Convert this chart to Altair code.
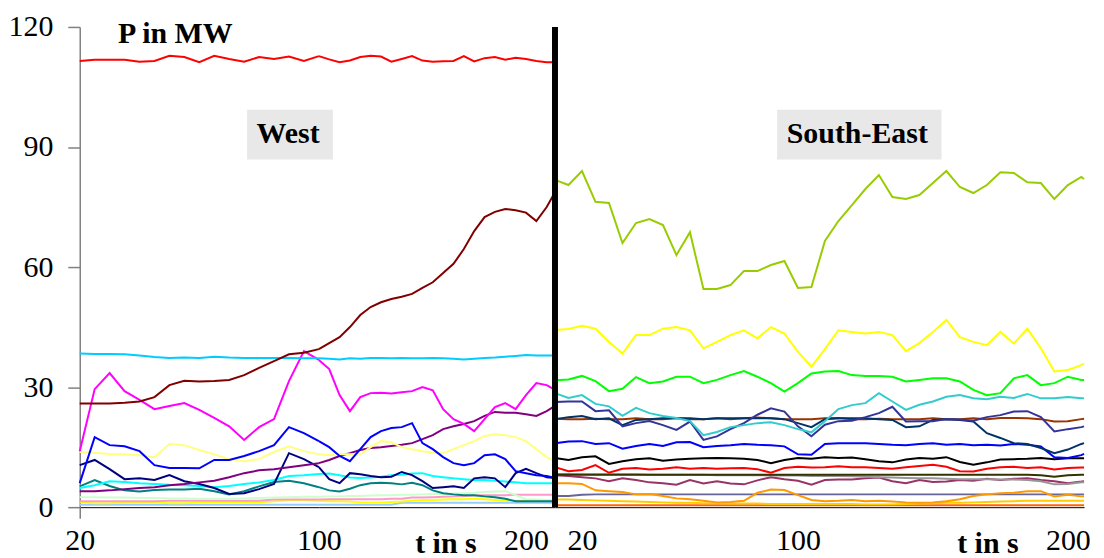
import altair as alt
import pandas as pd

FONT = "Liberation Serif, Times New Roman, serif"

# ---------------- West panel ----------------
T_WEST = [20, 25, 30, 35, 40, 45, 50, 55, 60, 65, 70, 75, 80, 85, 90, 95, 100, 105, 110, 115,
          120, 125, 130, 135, 140, 145, 150, 155, 160, 165, 170, 175, 180, 185, 190, 195, 200, 205, 210, 214]

w_red = [111.5, 111.8, 111.8, 111.8, 111.3, 111.5, 112.8, 112.5, 111.2, 112.8,
         112.0, 111.3, 112.5, 112.0, 112.6, 111.5, 112.7, 111.9, 111.2, 111.6,
         112.5, 112.8, 112.6, 111.3, 112.0, 112.7, 111.6, 111.3, 111.4, 111.5,
         112.7, 111.4, 112.2, 112.5, 111.8, 112.3, 112.0, 111.5, 111.2, 111.2]
w_maroon = [25.9, 25.9, 25.9, 26.1, 26.4, 27.5, 30.5, 31.6, 31.4, 31.5,
            31.8, 33.0, 34.8, 36.5, 38.2, 38.6, 39.5, 41.0, 42.5, 45.0,
            48.0, 50.0, 51.2, 52.0, 52.6, 53.3, 54.8, 56.2, 58.5, 60.8,
            64.5, 69.0, 72.5, 73.8, 74.5, 74.2, 73.6, 71.5, 75.0, 78.7]
w_sky = [38.4, 38.3, 38.3, 38.2, 37.9, 37.5, 37.3, 37.4, 37.3, 37.6,
         37.4, 37.3, 37.3, 37.3, 37.3, 37.2, 37.2, 37.1, 36.9, 37.2,
         37.1, 37.3, 37.3, 37.2, 37.3, 37.2, 37.2, 37.3, 37.2, 37.1,
         36.9, 37.1, 37.3, 37.4, 37.6, 37.8, 38.0, 37.9, 37.9, 37.9]
w_magenta = [14.0, 29.5, 33.5, 29.0, 26.8, 24.5, 25.3, 26.0, 24.3, 22.3,
             20.2, 16.8, 20.0, 22.0, 31.5, 39.0, 36.8, 34.5, 28.0, 24.0,
             27.5, 28.5, 28.6, 28.4, 28.7, 29.0, 30.0, 29.2, 24.5, 22.0,
             20.8, 19.0, 22.0, 25.0, 26.0, 24.5, 28.0, 31.0, 30.5, 29.3]
w_blue = [6.0, 17.5, 15.5, 15.2, 14.0, 10.5, 9.8, 9.8, 9.7, 11.8,
          11.8, 12.8, 14.0, 15.5, 20.0, 18.5, 16.5, 15.0, 12.8, 11.5,
          14.5, 17.5, 19.0, 19.8, 20.0, 21.0, 16.0, 14.5, 12.5, 11.0,
          10.5, 11.0, 13.0, 13.2, 12.0, 9.0, 8.5, 8.0, 7.8, 7.3]
w_lyellow = [13.8, 13.6, 13.3, 13.2, 13.0, 12.5, 15.8, 15.5, 14.3, 13.2,
             12.0, 11.5, 12.0, 13.8, 15.2, 14.0, 13.2, 13.0, 13.3, 13.2,
             13.2, 15.0, 16.5, 16.2, 15.0, 14.5, 14.0, 13.6, 13.5, 14.5,
             15.5, 16.5, 17.8, 18.2, 18.0, 17.5, 16.5, 14.5, 12.5, 11.5]
w_purple = [4.0, 4.0, 4.2, 4.5, 4.8, 5.0, 5.5, 5.8, 6.2, 6.6,
            7.5, 8.5, 9.2, 9.5, 10.0, 10.5, 11.0, 11.8, 12.8, 13.5,
            14.3, 14.8, 15.0, 15.3, 15.6, 16.0, 17.0, 18.0, 19.5, 20.2,
            20.8, 21.5, 22.8, 23.8, 23.6, 23.6, 23.2, 22.8, 24.0, 25.3]
w_navy = [10.5, 11.8, 9.5, 7.0, 7.2, 6.8, 8.0, 6.5, 5.8, 4.8,
          3.3, 3.5, 4.5, 5.8, 13.5, 12.0, 10.0, 7.0, 6.0, 8.5,
          8.2, 7.8, 7.5, 7.6, 8.8, 8.0, 6.5, 4.8, 5.0, 5.2,
          4.8, 7.2, 7.5, 7.2, 5.0, 8.5, 9.6, 8.5, 7.5, 7.3]
w_cyan = [4.8, 5.5, 6.5, 6.3, 6.0, 5.8, 5.6, 5.5, 5.3, 5.0,
          5.3, 5.8, 6.2, 6.8, 7.8, 8.0, 8.3, 8.4, 8.0, 7.4,
          7.3, 7.4, 7.6, 8.0, 8.1, 8.4, 8.5, 7.8, 7.5, 7.2,
          7.0, 6.8, 6.8, 6.6, 6.4, 6.2, 6.0, 6.0, 6.0, 6.0]
w_teal = [5.2, 6.8, 5.3, 4.2, 3.9, 4.3, 4.4, 4.4, 4.6, 4.0,
          3.2, 4.0, 5.2, 6.3, 6.6, 6.0, 5.0, 4.2, 3.9, 4.6,
          5.5, 6.0, 6.1, 6.0, 5.7, 6.1, 5.5, 4.2, 3.5, 3.2,
          3.0, 3.0, 2.7, 2.5, 2.1, 1.5, 1.5, 1.5, 1.5, 1.5]
w_lgreen = [2.5, 2.5, 2.4, 2.4, 2.3, 2.3, 2.2, 2.2, 2.1, 2.1,
            2.1, 2.2, 2.3, 2.4, 2.5, 2.6, 2.6, 2.7, 2.7, 2.8,
            2.8, 2.9, 3.0, 3.0, 3.1, 3.1, 3.2, 3.3, 3.3, 3.4,
            3.5, 3.6, 3.8, 3.9, 4.0, 3.0, 2.0, 1.9, 1.8, 1.8]
w_pink = [1.5, 1.5, 1.5, 1.5, 1.5, 1.5, 1.6, 1.6, 1.6, 1.6,
          1.6, 1.6, 1.6, 1.9, 1.9, 1.9, 1.9, 2.0, 2.0, 2.0,
          2.0, 2.0, 2.0, 2.1, 2.1, 2.4, 2.4, 2.5, 2.6, 2.7,
          2.8, 2.9, 3.0, 3.0, 3.0, 3.1, 3.1, 3.1, 3.1, 3.1]
w_yellow = [1.2, 1.0, 1.0, 1.1, 1.1, 1.2, 1.0, 1.0, 1.2, 1.3,
            1.3, 1.3, 1.2, 1.5, 1.8, 1.8, 1.6, 1.5, 1.5, 1.4,
            1.2, 1.2, 1.2, 1.3, 1.4, 1.6, 1.8, 1.8, 1.9, 2.0,
            2.0, 2.1, 2.0, 1.8, 1.6, 1.6, 1.7, 1.7, 1.7, 1.7]
w_lblue = [0.6, 0.6, 0.6, 0.6, 0.6, 0.6, 0.6, 0.6, 0.6, 0.6,
           0.6, 0.6, 0.6, 0.6, 0.6, 0.6, 0.6, 0.6, 0.6, 0.6,
           0.6, 0.6, 0.6, 0.6, 1.1, 1.1, 1.1, 1.1, 1.1, 1.1,
           1.1, 1.1, 1.1, 1.1, 1.1, 1.1, 1.1, 1.1, 1.1, 1.1]

WEST_NAMES = ["W lightblue", "W yellow", "W pink", "W lightgreen", "W teal", "W cyan", "W navy",
              "W purple", "W lightyellow", "W blue", "W magenta", "W sky", "W maroon", "W red"]
WEST_COLORS = ["#99CCFF", "#FFFF00", "#FF99CC", "#CCFFCC", "#008080", "#00FFFF", "#000080",
               "#800080", "#FFFF80", "#0000FF", "#FF00FF", "#00CCFF", "#800000", "#FF0000"]
WEST_VALUES = [w_lblue, w_yellow, w_pink, w_lgreen, w_teal, w_cyan, w_navy,
               w_purple, w_lyellow, w_blue, w_magenta, w_sky, w_maroon, w_red]

# ---------------- South-East panel ----------------
T_SE = [10, 15, 20, 25, 30, 35, 40, 45, 50, 55, 60, 65, 70, 75, 80, 85, 90, 95, 100, 105,
        110, 115, 120, 125, 130, 135, 140, 145, 150, 155, 160, 165, 170, 175, 180, 185, 190, 195, 200, 205, 206]

s_ygreen = [81.8, 80.5, 84.0, 76.3, 76.0, 66.0, 71.0, 72.0, 70.5, 63.0,
            68.7, 54.5, 54.5, 55.5, 59.0, 59.0, 60.5, 61.5, 54.8, 55.0,
            66.5, 71.5, 75.5, 79.5, 83.0, 77.5, 77.0, 78.0, 81.0, 84.0,
            80.0, 78.5, 80.5, 83.7, 83.5, 81.2, 81.0, 77.0, 80.5, 82.5, 82.0]
s_yellow = [44.3, 44.5, 45.3, 44.6, 41.3, 38.4, 43.0, 43.0, 44.6, 45.0,
            44.2, 39.7, 41.3, 43.0, 44.2, 42.2, 45.0, 43.4, 38.8, 35.1,
            39.5, 44.2, 43.8, 43.4, 43.8, 43.0, 39.0, 41.0, 43.8, 46.8,
            42.5, 41.3, 40.5, 43.8, 40.9, 44.6, 39.7, 33.9, 34.3, 35.5, 35.9]
s_green = [31.7, 31.9, 32.8, 31.5, 29.0, 29.6, 32.5, 31.0, 31.4, 32.6,
           32.6, 31.0, 31.8, 33.0, 34.0, 32.6, 31.0, 28.9, 31.0, 33.4,
           33.9, 34.0, 33.0, 32.8, 32.8, 32.6, 31.4, 31.8, 32.2, 32.2,
           31.4, 29.3, 28.0, 28.5, 32.2, 33.0, 30.5, 31.0, 32.6, 31.8, 31.8]
s_turq = [28.5, 27.3, 28.0, 25.8, 25.2, 22.8, 24.8, 23.5, 22.8, 22.3,
          21.5, 18.0, 18.8, 20.0, 20.5, 21.0, 21.2, 20.5, 19.5, 18.7,
          21.5, 24.5, 25.5, 26.0, 28.5, 26.4, 24.3, 25.6, 26.4, 27.6,
          28.0, 27.2, 27.0, 27.6, 27.3, 28.3, 27.2, 27.2, 27.5, 27.2, 27.2]
s_slate = [26.3, 26.4, 26.4, 24.0, 24.2, 20.2, 21.0, 21.5, 20.5, 19.3,
           21.4, 16.8, 17.7, 19.5, 21.0, 23.1, 24.7, 23.9, 20.2, 17.7,
           20.6, 21.5, 21.6, 22.5, 23.5, 25.1, 21.4, 21.5, 21.5, 22.0,
           21.9, 21.6, 22.5, 23.0, 23.9, 24.0, 22.5, 18.9, 19.5, 20.0, 20.2]
s_darkteal = [22.0, 22.5, 22.8, 22.0, 22.2, 20.5, 21.8, 22.0, 22.2, 22.2,
              22.2, 22.0, 22.2, 22.2, 22.2, 22.2, 22.2, 22.0, 21.0, 20.0,
              22.0, 22.2, 22.2, 22.2, 22.0, 21.8, 20.0, 20.2, 21.8, 22.0,
              21.8, 21.4, 18.5, 17.3, 16.0, 15.8, 14.8, 13.5, 14.4, 15.8, 16.0]
s_brown = [22.1, 22.0, 22.0, 22.1, 22.0, 22.0, 22.2, 22.0, 22.0, 22.3,
           22.0, 22.0, 22.2, 22.0, 22.2, 22.4, 22.2, 22.0, 22.0, 22.0,
           22.2, 22.3, 22.0, 22.0, 22.1, 22.0, 22.0, 22.0, 22.2, 22.0,
           22.0, 22.2, 22.0, 22.3, 22.3, 22.2, 22.0, 21.4, 21.5, 22.0, 22.1]
s_blue = [16.0, 16.4, 16.5, 15.8, 16.0, 14.6, 15.3, 15.8, 15.3, 16.2,
          16.3, 15.0, 15.3, 15.5, 15.8, 15.6, 15.5, 15.2, 13.2, 13.1,
          15.8, 16.0, 16.0, 16.0, 15.8, 15.6, 15.5, 15.8, 16.0, 15.6,
          15.8, 15.5, 15.6, 15.4, 15.8, 15.6, 15.2, 12.5, 12.3, 13.0, 13.3]
s_black = [12.3, 11.8, 12.5, 12.7, 10.8, 11.5, 12.0, 12.2, 11.6, 11.9,
           12.1, 12.2, 12.3, 12.2, 12.1, 11.8, 11.0, 11.8, 12.3, 12.1,
           12.5, 12.3, 12.4, 12.0, 11.5, 11.2, 11.9, 12.3, 12.1, 12.5,
           11.3, 10.6, 11.2, 11.9, 12.0, 12.1, 12.3, 12.0, 12.2, 12.2, 12.2]
s_red = [10.0, 9.0, 9.3, 10.5, 8.6, 9.6, 9.8, 9.4, 9.6, 10.0,
         9.6, 9.8, 9.6, 9.7, 9.8, 9.5, 8.6, 9.8, 10.1, 9.9,
         10.0, 10.2, 10.0, 10.0, 9.8, 9.6, 10.0, 10.3, 10.6, 10.1,
         9.0, 8.9, 9.6, 10.0, 10.1, 9.8, 10.0, 9.4, 9.8, 9.9, 9.9]
s_olive = [8.1, 8.1, 8.1, 8.1, 8.1, 8.1, 8.1, 8.1, 8.1, 8.1,
           8.1, 8.1, 8.1, 8.1, 8.1, 8.1, 8.1, 8.1, 8.1, 8.1,
           8.1, 8.1, 8.1, 8.1, 8.1, 8.1, 8.1, 8.1, 8.1, 8.1,
           8.1, 8.1, 8.1, 8.1, 8.1, 8.1, 8.0, 7.6, 8.0, 8.1, 8.1]
s_gray = [8.3, 8.3, 8.2, 8.2, 8.2, 8.2, 8.2, 8.1, 8.1, 8.1,
          8.1, 8.1, 8.0, 8.0, 8.0, 8.0, 7.9, 7.9, 7.9, 7.8,
          7.8, 7.8, 7.7, 7.6, 7.5, 7.4, 7.3, 7.2, 7.2, 7.1,
          7.0, 7.0, 7.0, 6.9, 6.9, 6.8, 6.5, 5.7, 5.8, 6.2, 6.2]
s_plum = [8.0, 7.8, 7.5, 7.2, 6.5, 7.2, 6.8, 6.2, 6.0, 5.6,
          6.8, 5.9, 6.5, 5.9, 5.7, 6.7, 7.5, 7.0, 6.6, 5.6,
          6.8, 6.9, 6.9, 7.2, 7.4, 6.5, 6.0, 6.8, 6.3, 6.4,
          6.8, 6.6, 7.1, 6.8, 7.1, 7.2, 6.8, 6.5, 6.0, 6.4, 6.5]
s_orange = [6.0, 6.0, 5.8, 4.2, 4.0, 3.8, 3.2, 3.3, 2.8, 2.2,
            2.0, 1.6, 1.2, 1.3, 1.6, 3.6, 4.4, 4.3, 3.0, 1.8,
            1.5, 1.6, 1.8, 1.5, 1.6, 1.4, 1.2, 1.1, 1.2, 1.5,
            2.0, 2.8, 3.2, 3.5, 3.6, 4.0, 4.0, 2.7, 3.1, 2.7, 2.7]
s_slategray = [2.8, 2.8, 3.1, 3.2, 3.2, 3.2, 3.2, 3.2, 3.2, 3.2,
               3.2, 3.2, 3.2, 3.2, 3.2, 3.2, 3.2, 3.2, 3.2, 3.2,
               3.2, 3.2, 3.2, 3.2, 3.2, 3.2, 3.2, 3.2, 3.2, 3.2,
               3.2, 3.2, 3.2, 3.2, 3.2, 3.2, 3.2, 3.2, 3.2, 3.2, 3.2]
s_gold = [1.9, 1.9, 1.8, 1.7, 1.6, 1.5, 1.4, 1.3, 1.2, 1.1,
          1.1, 1.0, 1.0, 0.9, 0.9, 0.9, 0.8, 0.8, 0.8, 0.8,
          0.8, 0.8, 0.8, 0.7, 0.7, 0.7, 0.8, 0.9, 1.0, 1.1,
          1.1, 1.2, 1.3, 1.4, 1.5, 1.6, 1.6, 1.6, 1.6, 1.6, 1.6]
s_darkorange = [0.5, 0.5, 0.5, 0.5, 0.5, 0.5, 0.5, 0.5, 0.5, 0.5,
                0.5, 0.5, 0.5, 0.5, 0.5, 0.5, 0.5, 0.5, 0.5, 0.5,
                0.5, 0.5, 0.5, 0.5, 0.5, 0.5, 0.5, 0.5, 0.5, 0.5,
                0.5, 0.5, 0.5, 0.5, 0.5, 0.5, 0.5, 0.5, 0.5, 0.5, 0.5]

SE_NAMES = ["S darkorange", "S gold", "S slategray", "S orange", "S plum", "S gray", "S olive",
            "S red", "S black", "S blue", "S brown", "S darkteal", "S slate", "S turquoise",
            "S green", "S yellow", "S yellowgreen"]
SE_COLORS = ["#FF6600", "#FFCC00", "#666699", "#FF9900", "#993366", "#969696", "#333300",
             "#FF0000", "#000000", "#0000FF", "#993300", "#003366", "#333399", "#33CCCC",
             "#00FF00", "#FFFF00", "#99CC00"]
SE_VALUES = [s_darkorange, s_gold, s_slategray, s_orange, s_plum, s_gray, s_olive,
             s_red, s_black, s_blue, s_brown, s_darkteal, s_slate, s_turq,
             s_green, s_yellow, s_ygreen]


def long_table(times, names, values):
    rows = []
    for k, (name, vals) in enumerate(zip(names, values)):
        for t, v in zip(times, vals):
            rows.append({"t": t, "p": v, "s": name, "k": k})
    return pd.DataFrame(rows)


df_w = long_table(T_WEST, WEST_NAMES, WEST_VALUES)
df_s = long_table(T_SE, SE_NAMES, SE_VALUES)
df_wa = df_w[df_w["t"] <= 100]
df_wb = df_w[df_w["t"] >= 100]

# annotations (data coordinates)
w_box = pd.DataFrame({"t": [76.0], "t2": [104.7], "p": [86.9], "p2": [99.3]})
w_txt = pd.DataFrame({"t": [89.7, 52.0], "p": [91.1, 116.0], "label": ["West", "P in MW"]})
s_box = pd.DataFrame({"t": [92.3], "t2": [153.2], "p": [86.9], "p2": [99.3]})
s_txt = pd.DataFrame({"t": [122.0], "p": [91.1], "label": ["South-East"]})
sep = pd.DataFrame({"t": [10]})

H = 482
W_A = 240      # West, 20..100 s
W_B = 237      # West, 100..214 s
W_S = 531      # South-East, 10..206 s

y_scale = alt.Scale(domain=[0, 120], nice=False, zero=True)


def x_axis(values, title=None, title_x=None, tick=False):
    kw = dict(values=values, labelFont=FONT, labelFontSize=30, labelColor="black",
              labelFlush=False, labelOverlap=False, domainColor="black", domainWidth=1, grid=False)
    if tick:
        kw.update(ticks=True, tickSize=11, tickColor="#808080", tickWidth=1.5, labelPadding=7)
    else:
        kw.update(ticks=False, tickSize=0, labelPadding=18)
    if title:
        kw.update(title=title, titleFont=FONT, titleFontSize=30, titleFontWeight="bold",
                  titleColor="black", titleBaseline="alphabetic", titleAlign="center",
                  titleY=45, titleX=title_x)
    else:
        kw.update(title=None)
    return alt.Axis(**kw)


y_left = alt.Y("p:Q", scale=y_scale,
               axis=alt.Axis(values=[0, 30, 60, 90, 120], labelFont=FONT, labelFontSize=30,
                             labelColor="black", tickSize=12, tickColor="#808080", tickWidth=1.5,
                             domainColor="#808080", domainWidth=1.5, labelPadding=15,
                             labelFlush=False, grid=False, title=None))
y_none = alt.Y("p:Q", scale=y_scale, axis=None)

west_color = alt.Color("s:N", scale=alt.Scale(domain=WEST_NAMES, range=WEST_COLORS), legend=None)
se_color = alt.Color("s:N", scale=alt.Scale(domain=SE_NAMES, range=SE_COLORS), legend=None)

text_mark = dict(font=FONT, fontSize=30, fontWeight="bold", color="black",
                 align="center", baseline="alphabetic")

# West, first part (20..100 s)
xa = alt.X("t:Q", scale=alt.Scale(domain=[20, 100], nice=False, zero=False),
           axis=x_axis([20], tick=True))
a_box = alt.Chart(w_box).mark_rect(color="#E8E8E8").encode(x=xa, x2="t2:Q", y=y_left, y2="p2:Q")
a_lines = alt.Chart(df_wa).mark_line(strokeWidth=2).encode(x=xa, y=y_left, color=west_color)
a_text = alt.Chart(w_txt).mark_text(**text_mark).encode(x=xa, y=y_left, text="label:N")
panel_a = alt.layer(a_box, a_lines, a_text).properties(width=W_A, height=H)

# West, second part (100..214 s)
xb = alt.X("t:Q", scale=alt.Scale(domain=[100, 214], nice=False, zero=False),
           axis=x_axis([100, 200], "t in s", 127))
b_lines = alt.Chart(df_wb).mark_line(strokeWidth=2).encode(x=xb, y=y_none, color=west_color)
panel_b = b_lines.properties(width=W_B, height=H)

# South-East
xs = alt.X("t:Q", scale=alt.Scale(domain=[10, 206], nice=False, zero=False),
           axis=x_axis([20, 100, 200], "t in s", 434))
s_box_l = alt.Chart(s_box).mark_rect(color="#E8E8E8").encode(x=xs, x2="t2:Q", y=y_none, y2="p2:Q")
s_lines = alt.Chart(df_s).mark_line(strokeWidth=2).encode(x=xs, y=y_none, color=se_color)
s_text = alt.Chart(s_txt).mark_text(**text_mark).encode(x=xs, y=y_none, text="label:N")
s_sep = alt.Chart(sep).mark_rule(color="black", strokeWidth=6).encode(x=xs)
panel_s = alt.layer(s_box_l, s_lines, s_text, s_sep).properties(width=W_S, height=H)

chart = alt.hconcat(panel_a, panel_b, panel_s, spacing=0, bounds="flush").resolve_scale(
    color="independent"
).properties(
    padding={"left": 0, "top": 3, "right": 5, "bottom": 0},
    background="white",
).configure_view(strokeWidth=0)

chart.save("out.html", embed_options={"renderer": "svg", "actions": False})
